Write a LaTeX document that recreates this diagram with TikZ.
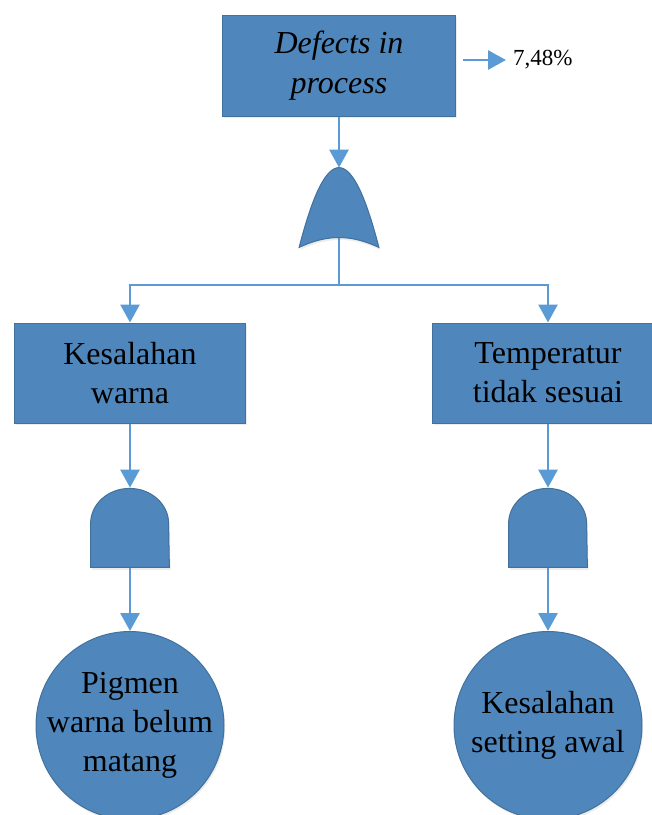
\documentclass[tikz,border=0pt]{standalone}
\usepackage{fontspec}
\setmainfont{Liberation Serif}
\usepackage{tikz}
\usetikzlibrary{arrows,arrows.meta,shapes,shadows,calc}
\usetikzlibrary{positioning}
\definecolor{boxblue}{RGB}{79,135,189}
\definecolor{boxline}{RGB}{65,113,156}
\definecolor{arrowblue}{RGB}{91,155,213}
\tikzstyle{event} = [draw=boxline, line width=0.5pt, fill=boxblue, rectangle,
    minimum width=115.5pt, minimum height=50pt, align=center,
    font=\fontsize{16}{19.5}\selectfont,
    drop shadow={opacity=0.15, shadow xshift=0.6pt, shadow yshift=-1.2pt}]
\tikzstyle{basic} = [event, circle, minimum size=94pt, inner sep=-6pt]
\tikzstyle{gate} = [minimum width=39.5pt, minimum height=39.5pt, inner sep=0pt]
\tikzstyle{gatefill} = [draw=boxline, line width=0.5pt, fill=boxblue,
    drop shadow={opacity=0.15, shadow xshift=0.6pt, shadow yshift=-1.2pt}]
\tikzstyle{link} = [arrowblue, line width=1.4pt,
    -{Triangle[width=9.5pt,length=9pt]}]

\begin{document}
\begin{tikzpicture}[x=0.5pt, y=-0.5pt, node distance = 3cm, auto]
  \useasboundingbox (0,0) rectangle (652,815);
  \clip (0,0) rectangle (652,815);
  % Place nodes
  \node [event, minimum width=116.5pt, minimum height=50.5pt,
    font=\fontsize{16}{20}\selectfont\itshape] (defect) at (339,65.5)
  {Defects in\\process};
  \node [anchor=west, font=\fontsize{11.5}{14}\selectfont] (pct) at (506,60) {7,48\%};
  \coordinate (pctfrom) at (463,60);
  \node [gate, below of=defect, node distance=71pt] (orgate) {};
  \node [event] (warna) at (130,373) {Kesalahan\\warna};
  \node [event] (temp) at (548,373) {Temperatur\\tidak sesuai};
  \node [gate, minimum width=39pt, below of=warna, node distance=77.25pt] (and1) {};
  \node [gate, minimum width=39pt, below of=temp, node distance=77.25pt] (and2) {};
  \node [basic, below of=and1, node distance=99pt] (pigmen)
  {Pigmen\\warna belum\\matang};
  \node [basic, below of=and2, node distance=99pt] (setting)
  {Kesalahan\\setting awal};
  \coordinate (split) at (339,285);
  % Connectors
  \draw[link] (pctfrom) -- (pct.west);
  \draw[link] (defect) -- (orgate.north);
  \draw[link, -] (orgate.center) -- (split);
  \draw[link] (split) -| (warna);
  \draw[link] (split) -| (temp);
  \draw[link] (warna) -- (and1.north);
  \draw[link] (temp) -- (and2.north);
  \draw[link] (and1.south) -- (pigmen);
  \draw[link] (and2.south) -- (setting);
  % Gates
  \filldraw[gatefill] (orgate.north)
    .. controls ($(orgate.north)+(-13,0)$) and ($(orgate.north)+(-26,26)$) .. (orgate.south west)
    to[out=25,in=155] (orgate.south east)
    .. controls ($(orgate.north)+(26,26)$) and ($(orgate.north)+(13,0)$) .. (orgate.north) -- cycle;
  \filldraw[gatefill] (and1.south west) -- ++(0,-44)
    arc[start angle=180, end angle=0, x radius=19.5pt, y radius=17.5pt]
    -- (and1.south east) -- cycle;
  \filldraw[gatefill] (and2.south west) -- ++(0,-44)
    arc[start angle=180, end angle=0, x radius=19.5pt, y radius=17.5pt]
    -- (and2.south east) -- cycle;
\end{tikzpicture}
\end{document}
